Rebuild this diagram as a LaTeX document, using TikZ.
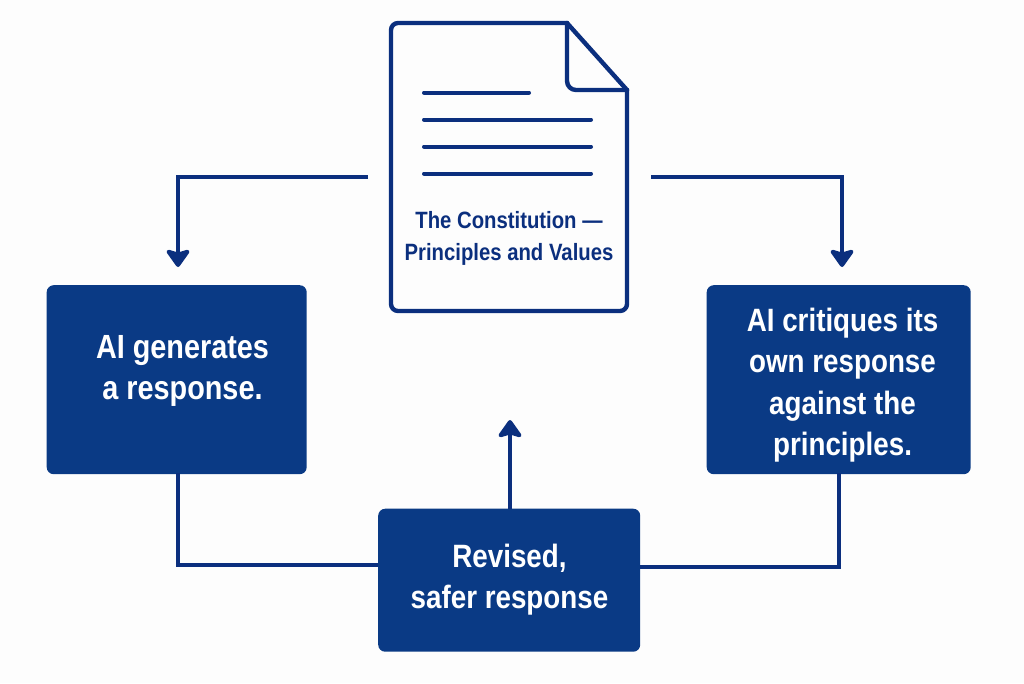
\documentclass[tikz,border=0pt]{standalone}
\usepackage{fontspec}
\setmainfont[FakeStretch=0.86]{Liberation Sans}
\usetikzlibrary{arrows.meta,calc}
\definecolor{boxblue}{HTML}{0A3A85}
\definecolor{linkblue}{HTML}{0B2F7E}
\definecolor{paper}{HTML}{FDFDFD}
\tikzset{
  x=1pt,y=-1pt,
  box/.style={fill=boxblue,draw=none,rounded corners=7pt,inner sep=0pt,anchor=north west},
  boxtext/.style={text=white,font=\fontsize{32.3}{41.5}\selectfont\bfseries,align=center,inner sep=0pt},
  doctext/.style={text=linkblue,font=\fontsize{23.6}{32}\selectfont\bfseries,align=center,inner sep=0pt},
  conn/.style={draw=linkblue,line width=4pt,line join=miter},
  head/.style={-{Stealth[length=20pt,width=28pt,inset=4pt,round]}},
  docline/.style={draw=linkblue,line width=4.4pt,line join=round,line cap=round},
  textline/.style={draw=linkblue,line width=4pt,line cap=round},
}
\begin{document}
\begin{tikzpicture}
\useasboundingbox (0,0) rectangle (1024,683);
\fill[paper] (0,0) rectangle (1024,683);
% document
\node[inner sep=0pt,minimum width=236pt,minimum height=288pt,anchor=north west] (doc) at (391,23) {};
\draw[docline,rounded corners=7pt] (567,23) -- (391,23) -- (391,311) -- (627,311) -- (627,90);
\draw[docline] (567,23) -- (627,90);
\draw[docline,rounded corners=9pt] (567,23) -- (567,90) -- (627,90);
\draw[textline] (424,92.5) -- (529,92.5);
\draw[textline] (424,119.5) -- (591,119.5);
\draw[textline] (424,146.5) -- (591,146.5);
\draw[textline] (424,173.5) -- (591,173.5);
\node[doctext] (doclabel) at (509,238) {The Constitution —\\Principles and Values};
% boxes
\node[box,minimum width=260pt,minimum height=189pt] (gen) at (46.5,285) {};
\node[box,minimum width=264pt,minimum height=189pt] (crit) at (706.5,285) {};
\node[box,minimum width=262pt,minimum height=143pt] (rev) at (378,508.5) {};
\node[boxtext,font=\fontsize{33.5}{41.5}\selectfont\bfseries] (gentext) at (182.5,371) {AI generates\\a response.};
\node[boxtext] (crittext) at (842.5,385) {AI critiques its\\own response\\against the\\principles.};
\node[boxtext] (revtext) at (509.5,579.5) {Revised,\\safer response};
% connectors
\coordinate (docL) at (368,176.5);
\coordinate (docR) at (651,176.5);
\coordinate (genTop) at (178,267);
\coordinate (critTop) at (842,267);
\coordinate (revTop) at (510,420);
\draw[conn,head] (docL) -- (genTop |- docL) -- (genTop);
\draw[conn,head] (docR) -- (critTop |- docR) -- (critTop);
\draw[conn,head] (rev.north -| revTop) -- (revTop);
\draw[conn] (178,473) |- (rev.west |- 0,565);
\draw[conn] (839,473) |- (rev.east |- 0,567);
\end{tikzpicture}
\end{document}
